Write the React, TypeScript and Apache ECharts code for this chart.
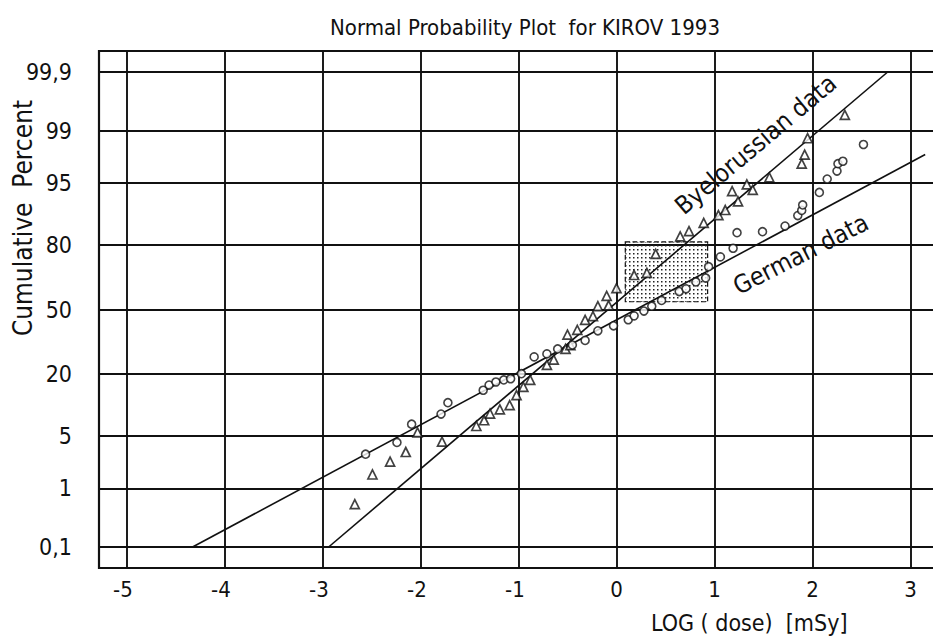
import React, { useEffect, useRef } from 'react';
import * as echarts from 'echarts';

// ---- axis ticks ----
const percentTicks = [0.1, 1, 5, 20, 50, 80, 95, 99, 99.9];
const percentTickLabels = ['0,1', '1', '5', '20', '50', '80', '95', '99', '99,9'];
const doseTicks = [-5, -4, -3, -2, -1, 0, 1, 2, 3];

// ---- Byelorussian data (triangles): LOG(dose) and cumulative percent ----
const byeDose = [-2.67, -2.49, -2.31, -2.15, -2.03, -1.78, -1.43, -1.35, -1.29, -1.19, -1.09, -1.02, -0.95, -0.88,
  -0.71, -0.64, -0.52, -0.47, -0.5, -0.4, -0.32, -0.24, -0.19, -0.08, -0.1, 0.0, 0.18, 0.31, 0.4, 0.65, 0.74, 0.89,
  1.04, 1.11, 1.24, 1.18, 1.33, 1.39, 1.56, 1.89, 1.92, 1.95, 2.33];
const byePercent = [0.57, 1.6, 2.4, 3.2, 5.5, 4.3, 6.5, 7.5, 8.8, 9.7, 10.7, 13.3, 15.7, 18.0,
  23.6, 25.7, 30.4, 32.2, 37.2, 39.6, 44.6, 46.6, 51.7, 52.2, 57.0, 60.9, 67.3, 68.3, 76.5, 82.9, 84.6, 87.0,
  89.0, 90.2, 92.0, 93.8, 94.8, 94.0, 95.7, 97.1, 97.8, 98.7, 99.43];

// ---- German data (circles) ----
const germanDose = [-2.56, -2.24, -2.09, -1.79, -1.72, -1.36, -1.3, -1.23, -1.15, -1.08, -0.97, -0.84, -0.71, -0.6,
  -0.45, -0.32, -0.19, -0.03, 0.12, 0.18, 0.28, 0.36, 0.46, 0.64, 0.71, 0.81, 0.91, 0.94, 1.06, 1.19, 1.23, 1.49,
  1.72, 1.85, 1.89, 1.9, 2.07, 2.15, 2.25, 2.26, 2.31, 2.52];
const germanPercent = [3.0, 4.2, 6.8, 8.7, 11.3, 14.7, 16.3, 17.3, 18.0, 18.4, 20.2, 26.9, 28.2, 30.4,
  32.2, 34.4, 39.1, 41.6, 44.7, 46.7, 49.2, 51.7, 54.7, 59.2, 60.6, 64.0, 65.9, 71.1, 75.3, 78.7, 84.1, 84.4,
  86.1, 88.9, 90.1, 91.3, 93.6, 95.5, 96.4, 97.1, 97.3, 98.4];

// ---- fitted lines (end points) ----
const byeFitDose = [-2.94, 2.77];
const byeFitPercent = [0.1, 99.9];
const germanFitDose = [-4.33, 3.15];
const germanFitPercent = [0.1, 97.8];

// ---- dotted box ----
const boxDose = [0.09, 0.93];
const boxPercent = [54, 81];

// ---- line label anchors ----
const byeLabelAt = [1.42, 98.4];
const germanLabelAt = [1.88, 76.4];

// inverse standard normal CDF (normal probability scale)
function probit(p: number): number {
  const a = [-3.969683028665376e1, 2.209460984245205e2, -2.759285104469687e2, 1.38357751867269e2, -3.066479806614716e1, 2.506628277459239];
  const b = [-5.447609879822406e1, 1.615858368580409e2, -1.556989798598866e2, 6.680131188771972e1, -1.328068155288572e1];
  const c = [-7.784894002430293e-3, -3.223964580411365e-1, -2.400758277161838, -2.549732539343734, 4.374664141464968, 2.938163982698783];
  const d = [7.784695709041462e-3, 3.224671290700398e-1, 2.445134137142996, 3.754408661907416];
  const pl = 0.02425;
  let q: number, r: number;
  if (p < pl) {
    q = Math.sqrt(-2 * Math.log(p));
    return (((((c[0] * q + c[1]) * q + c[2]) * q + c[3]) * q + c[4]) * q + c[5]) / ((((d[0] * q + d[1]) * q + d[2]) * q + d[3]) * q + 1);
  }
  if (p <= 1 - pl) {
    q = p - 0.5;
    r = q * q;
    return ((((((a[0] * r + a[1]) * r + a[2]) * r + a[3]) * r + a[4]) * r + a[5]) * q) / (((((b[0] * r + b[1]) * r + b[2]) * r + b[3]) * r + b[4]) * r + 1);
  }
  q = Math.sqrt(-2 * Math.log(1 - p));
  return -(((((c[0] * q + c[1]) * q + c[2]) * q + c[3]) * q + c[4]) * q + c[5]) / ((((d[0] * q + d[1]) * q + d[2]) * q + d[3]) * q + 1);
}
const z = (pct: number) => probit(pct / 100);
const zTicks = percentTicks.map(z);

const FONT = '"Liberation Sans Narrow", "DejaVu Sans Condensed", "Arial Narrow", "Roboto", sans-serif';
const INK = '#111';

const dotPattern =
  'data:image/svg+xml;utf8,' +
  encodeURIComponent('<svg xmlns="http://www.w3.org/2000/svg" width="4" height="4"><rect x="1" y="1" width="1.5" height="1.5" fill="#222"/></svg>');

export default function App() {
  const ref = useRef<HTMLDivElement>(null);
  useEffect(() => {
    if (!ref.current) return;
    const chart = echarts.init(ref.current, undefined, { renderer: 'svg' });
    const option: any = {
      animation: false,
      backgroundColor: '#fff',
      title: {
        text: 'Normal Probability Plot  for KIROV 1993',
        left: 520,
        top: 11,
        textAlign: 'center',
        textStyle: { fontFamily: FONT, fontSize: 22, fontWeight: 'normal', color: INK },
      },
      grid: {
        left: 99,
        top: 51,
        width: 836,
        height: 517,
        show: true,
        borderColor: INK,
        borderWidth: 2.2,
        backgroundColor: 'transparent',
        outerBoundsMode: 'none',
        containLabel: false,
      },
      xAxis: {
        type: 'value',
        min: -5.28,
        max: 3.25,
        axisLine: { show: false },
        axisTick: { show: false, customValues: doseTicks },
        axisLabel: {
          customValues: doseTicks,
          margin: 10,
          color: INK,
          fontFamily: FONT,
          fontSize: 22,
          formatter: (v: number) => (v < 0 ? `{n|-${Math.abs(v)}}{s|}` : `{n|${v}}`),
          rich: {
            n: { fontFamily: FONT, fontSize: 22, color: INK },
            s: { width: 7 },
          },
        },
        splitLine: { show: true, lineStyle: { color: INK, width: 1.9 } },
      },
      yAxis: {
        type: 'value',
        min: -3.36,
        max: 3.36,
        axisLine: { show: false },
        axisTick: { show: false, customValues: zTicks },
        axisLabel: {
          customValues: zTicks,
          margin: 27,
          color: INK,
          fontFamily: FONT,
          fontSize: 23,
          verticalAlign: 'middle',
          formatter: (v: number) => {
            let best = -1;
            let bd = 1e9;
            zTicks.forEach((t, i) => {
              const dd = Math.abs(t - v);
              if (dd < bd) {
                bd = dd;
                best = i;
              }
            });
            return bd < 1e-3 ? percentTickLabels[best] : '';
          },
        },
        splitLine: { show: true, lineStyle: { color: INK, width: 1.9 } },
      },
      graphic: [
        {
          type: 'text',
          x: 23,
          y: 218,
          rotation: Math.PI / 2,
          style: { text: 'Cumulative  Percent', fontFamily: FONT, fontSize: 26, fill: INK, align: 'center', verticalAlign: 'middle' },
        },
        {
          type: 'text',
          x: 651,
          y: 623,
          style: { text: 'LOG ( dose)  [mSy]', fontFamily: FONT, fontSize: 23, fill: INK, align: 'left', verticalAlign: 'middle' },
        },
      ],
      series: [
        {
          name: 'Byelorussian fit',
          type: 'line',
          data: byeFitDose.map((x, i) => [x, z(byeFitPercent[i])]),
          symbol: 'none',
          lineStyle: { color: INK, width: 1.6 },
          z: 3,
          markPoint: {
            symbol: 'rect',
            symbolSize: 1,
            itemStyle: { color: 'transparent' },
            label: {
              show: true,
              position: 'inside',
              rotate: 40,
              color: INK,
              fontFamily: FONT,
              fontSize: 25,
              formatter: 'Byelorussian data',
            },
            data: [{ coord: [byeLabelAt[0], z(byeLabelAt[1])] }],
          },
        },
        {
          name: 'German fit',
          type: 'line',
          data: germanFitDose.map((x, i) => [x, z(germanFitPercent[i])]),
          symbol: 'none',
          lineStyle: { color: INK, width: 1.6 },
          z: 3,
          markPoint: {
            symbol: 'rect',
            symbolSize: 1,
            itemStyle: { color: 'transparent' },
            label: {
              show: true,
              position: 'inside',
              rotate: 27,
              color: INK,
              fontFamily: FONT,
              fontSize: 25,
              formatter: 'German data',
            },
            data: [{ coord: [germanLabelAt[0], z(germanLabelAt[1])] }],
          },
          markArea: {
            silent: true,
            itemStyle: {
              color: { image: dotPattern, repeat: 'repeat' },
              borderColor: INK,
              borderWidth: 1.2,
              borderType: 'dashed',
            },
            data: [[
              { coord: [boxDose[0], z(boxPercent[1])] },
              { coord: [boxDose[1], z(boxPercent[0])] },
            ]],
          },
        },
        {
          name: 'Byelorussian data',
          type: 'scatter',
          data: byeDose.map((x, i) => [x, z(byePercent[i])]),
          symbol: 'triangle',
          symbolSize: 9,
          itemStyle: { color: '#fff', borderColor: INK, borderWidth: 1.7 },
          z: 4,
        },
        {
          name: 'German data',
          type: 'scatter',
          data: germanDose.map((x, i) => [x, z(germanPercent[i])]),
          symbol: 'circle',
          symbolSize: 8,
          itemStyle: { color: '#fff', borderColor: INK, borderWidth: 1.6 },
          z: 4,
        },
      ],
    };
    chart.setOption(option);
    return () => chart.dispose();
  }, []);
  return (
    <div
      ref={ref}
      style={{ position: 'absolute', left: 0, top: 0, width: 933, height: 640, background: '#fff' }}
    />
  );
}
